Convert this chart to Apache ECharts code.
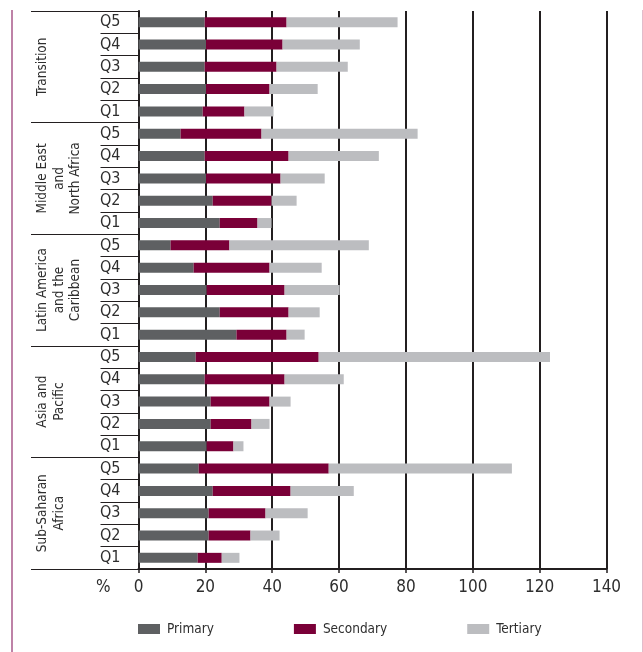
<!DOCTYPE html>
<html>
<head>
<meta charset="utf-8">
<script src="https://cdn.jsdelivr.net/npm/echarts@6/dist/echarts.min.js"></script>
<style>
  html, body { margin: 0; padding: 0; background: #fff; }
  #chart { width: 643px; height: 652px; }
</style>
</head>
<body>
<div id="chart"></div>
<script>
// rows run top to bottom: each region Q5..Q1
const regions = ['Transition', 'Middle East\nand\nNorth Africa', 'Latin America\nand the\nCaribbean', 'Asia and\nPacific', 'Sub-Saharan\nAfrica'];
const quintiles = ['Q5', 'Q4', 'Q3', 'Q2', 'Q1'];
const xTicks = [0, 20, 40, 60, 80, 100, 120, 140];

// segment widths (%)
const primary = [
  19.8, 20.2, 19.8, 20.2, 19.2,
  12.6, 19.8, 20.2, 22.2, 24.3,
  9.6, 16.5, 20.4, 24.3, 29.3,
  17.1, 19.8, 21.6, 21.6, 20.4,
  18.0, 22.2, 21.0, 21.0, 17.7
];
const secondary = [
  24.5, 22.9, 21.5, 19.0, 12.5,
  24.2, 25.1, 22.3, 17.6, 11.3,
  17.6, 22.7, 23.3, 20.6, 15.0,
  36.8, 23.9, 17.6, 12.2, 8.0,
  38.9, 23.3, 17.0, 12.5, 7.2
];
const tertiary = [
  33.2, 23.1, 21.3, 14.4, 8.7,
  46.7, 27.0, 13.2, 7.5, 4.2,
  41.7, 15.6, 16.5, 9.3, 5.4,
  69.2, 17.7, 6.3, 5.4, 3.0,
  54.8, 18.9, 12.6, 8.7, 5.3
];

const categories = [];
regions.forEach(() => quintiles.forEach(q => categories.push(q)));

const FONT = "'DejaVu Sans Condensed', 'Liberation Sans Narrow', sans-serif";
const INK = '#231f20';
const TEXT = '#2e2e2e';

const chart = echarts.init(document.getElementById('chart'), null, { renderer: 'canvas' });

const makeBar = (name, data, color) => ({
  name: name,
  type: 'bar',
  stack: 'total',
  barWidth: 10,
  yAxisIndex: 0,
  itemStyle: { color: color },
  data: data
});

const option = {
  animation: false,
  textStyle: { fontFamily: FONT },
  grid: { left: 138.5, right: 36.5, top: 11, bottom: 83 },
  xAxis: {
    type: 'value',
    min: 0,
    max: 140,
    interval: 20,
    name: '%',
    nameLocation: 'start',
    nameGap: 28,
    nameTextStyle: { color: TEXT, fontSize: 17, fontFamily: FONT, verticalAlign: 'top', padding: [10, 0, 0, 0] },
    axisLine: { show: true, lineStyle: { color: INK, width: 2 } },
    axisTick: { show: true, length: 4, lineStyle: { color: INK, width: 1.5 } },
    axisLabel: {
      color: TEXT, fontSize: 17, fontFamily: FONT, margin: 10,
      formatter: v => (xTicks.indexOf(v) >= 0 ? String(v) : '')
    },
    splitLine: { show: true, lineStyle: { color: INK, width: 2 } }
  },
  yAxis: [
    {
      type: 'category',
      inverse: true,
      data: categories,
      axisLine: { show: true, lineStyle: { color: INK, width: 2 } },
      axisTick: { show: true, interval: 0, length: 38, lineStyle: { color: INK, width: 1 } },
      axisLabel: { interval: 0, color: TEXT, fontSize: 16, fontFamily: FONT, margin: 18 },
      splitLine: { show: false }
    },
    {
      type: 'category',
      inverse: true,
      position: 'left',
      offset: 0,
      data: regions,
      axisLine: { show: false },
      axisTick: { show: true, interval: 0, length: 107.5, lineStyle: { color: INK, width: 1 } },
      axisLabel: {
        interval: 0, rotate: 90, margin: 104,
        align: 'center', verticalAlign: 'top',
        color: TEXT, fontSize: 13.5, lineHeight: 16.5, fontFamily: FONT
      },
      splitLine: { show: false }
    }
  ],
  legend: {
    left: 138,
    top: 622,
    padding: 0,
    itemWidth: 22,
    itemHeight: 10,
    itemGap: 80,
    icon: 'rect',
    textStyle: { color: TEXT, fontSize: 13.5, fontFamily: FONT, padding: [0, 0, 0, 2] },
    data: ['Primary', 'Secondary', 'Tertiary']
  },
  graphic: [
    { type: 'line', shape: { x1: 12, y1: 10, x2: 12, y2: 652 }, style: { stroke: '#a8588a', lineWidth: 1.5 }, silent: true },
    { type: 'line', shape: { x1: 642.5, y1: 10, x2: 642.5, y2: 652 }, style: { stroke: '#e2bccb', lineWidth: 1 }, silent: true }
  ],
  series: [
    makeBar('Primary', primary, '#5e6062'),
    makeBar('Secondary', secondary, '#7a0038'),
    makeBar('Tertiary', tertiary, '#bcbdc0')
  ]
};

chart.setOption(option);
window.addEventListener('resize', () => chart.resize());
</script>
</body>
</html>
